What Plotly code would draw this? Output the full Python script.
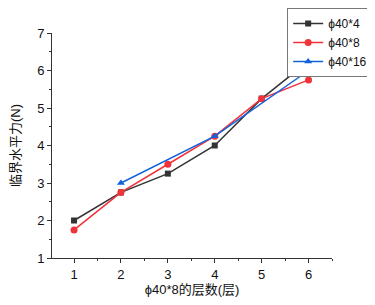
import plotly.graph_objects as go

x_all = [1, 2, 3, 4, 5, 6]
y_4 = [2.0, 2.75, 3.25, 4.0, 5.25, 6.25]
y_8 = [1.75, 2.75, 3.5, 4.25, 5.25, 5.75]
x_16 = [2, 4, 6]
y_16 = [3.0, 4.25, 6.0]
names = ["ϕ40*4", "ϕ40*8", "ϕ40*16"]

FONT = "Arial, Liberation Sans, Noto Sans CJK SC, sans-serif"

fig = go.Figure()
fig.add_trace(go.Scatter(x=x_all, y=y_4, name=names[0], mode="lines+markers",
                         line=dict(color="#333333", width=1.5),
                         marker=dict(symbol="square", size=6, color="#333333")))
fig.add_trace(go.Scatter(x=x_all, y=y_8, name=names[1], mode="lines+markers",
                         line=dict(color="#f0323a", width=1.5),
                         marker=dict(symbol="circle", size=7, color="#f0323a")))
fig.add_trace(go.Scatter(x=x_16, y=y_16, name=names[2], mode="lines+markers",
                         line=dict(color="#1262dc", width=1.5),
                         marker=dict(symbol="triangle-up", size=7, color="#1262dc")))

axis_common = dict(showline=True, linecolor="#333333", linewidth=1, ticks="outside",
                   ticklen=4, tickcolor="#333333", showgrid=False, zeroline=False,
                   tickfont=dict(size=13, color="#111111", family=FONT),
                   minor=dict(ticks="outside", ticklen=2, tickcolor="#333333"))

fig.update_layout(
    width=367, height=297,
    margin=dict(l=44, r=43, t=25, b=47, autoexpand=False),
    paper_bgcolor="white", plot_bgcolor="white",
    font=dict(family=FONT, color="#111111"),
    xaxis=dict(range=[0.53, 6.5], tickvals=[1, 2, 3, 4, 5, 6], dtick=1,
               minor_dtick=0.5,
               title=dict(text="ϕ40*8的层数(层)", font=dict(size=13), standoff=4),
               **axis_common),
    yaxis=dict(range=[1, 7], dtick=1, minor_dtick=0.5,
               title=dict(text="临界水平力(N)", font=dict(size=13), standoff=28),
               **axis_common),
    legend=dict(xref="container", yref="container", x=0.995, y=1.0,
                xanchor="right", yanchor="top",
                bordercolor="#777777", borderwidth=1, bgcolor="white",
                font=dict(size=12, family=FONT), tracegroupgap=0,
                itemwidth=30),
    showlegend=True,
)

fig.write_html("out.html")
